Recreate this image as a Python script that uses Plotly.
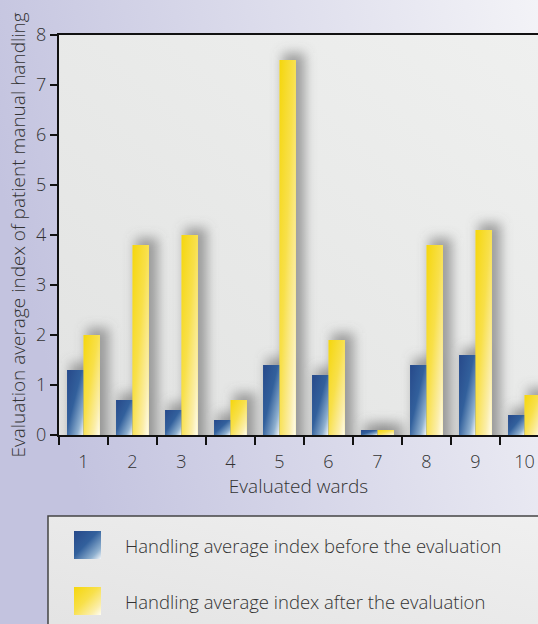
import base64
import plotly.graph_objects as go

wards = [1, 2, 3, 4, 5, 6, 7, 8, 9, 10]
ward_labels = ["1", "2", "3", "4", "5", "6", "7", "8", "9", "10"]
before = [1.3, 0.7, 0.5, 0.3, 1.4, 1.2, 0.1, 1.4, 1.6, 0.4]
after = [2.0, 3.8, 4.0, 0.7, 7.5, 1.9, 0.1, 3.8, 4.1, 0.8]
y_ticks = [0, 1, 2, 3, 4, 5, 6, 7, 8]
name_before = "Handling average index before the evaluation"
name_after = "Handling average index after the evaluation"

W, H = 538, 624
ML, MR, MT, MB = 59, 0, 35, 189
PW, PH = W - ML - MR, H - MT - MB
CAT_W = 49.0
Y_MAX = 8.0
PX_PER_Y = PH / Y_MAX
BARGAP = 0.33

def px_x(px):
    return (px - ML) / PW

def px_y(py):
    return (H - MB - py) / PH

def svg_uri(svg):
    return "data:image/svg+xml;base64," + base64.b64encode(svg.encode()).decode()

def grad_svg(stops, x1=0, y1=0, x2=1, y2=1):
    st = "".join(f"<stop offset='{o}' stop-color='{c}'/>" for o, c in stops)
    return (f"<svg xmlns='http://www.w3.org/2000/svg' width='100' height='100' viewBox='0 0 100 100' "
            f"preserveAspectRatio='none'><defs><linearGradient id='g' x1='{x1}' y1='{y1}' x2='{x2}' y2='{y2}'>"
            f"{st}</linearGradient></defs><rect width='100' height='100' fill='url(#g)'/></svg>")

bg_svg = grad_svg([(0, "#c3c3df"), (1, "#f3f3f7")], 0, 0.3, 1, 0)
pa_svg = grad_svg([(0, "#e2e3e2"), (1, "#eff0ef")], 0, 1, 1, 0)
lg_svg = grad_svg([(0, "#e3e3e3"), (1, "#f0f0f0")], 0, 1, 1, 0)
blue_svg = grad_svg([(0, "#27498a"), (0.45, "#32609c"), (0.8, "#8fb0cf"), (1, "#f4f7fa")], 0, 0, 1, 1)
yellow_svg = grad_svg([(0, "#f5d60c"), (0.45, "#f8e04a"), (0.8, "#fbeeaa"), (1, "#fffdf2")], 0, 0, 1, 1)

BLUE = "#35629b"
YELLOW = "#f8df3a"
TXT = "#333333"
FONT = "Open Sans"
W8 = 300

fig = go.Figure()
fig.add_trace(go.Bar(x=wards, y=before, name=name_before, marker=dict(color=BLUE, line=dict(width=0))))
fig.add_trace(go.Bar(x=wards, y=after, name=name_after, marker=dict(color=YELLOW, line=dict(width=0))))

x_max = 0.5 + PW / CAT_W

fig.update_layout(
    width=W, height=H,
    margin=dict(l=ML, r=MR, t=MT, b=MB, pad=0),
    paper_bgcolor="#d8d8ea",
    plot_bgcolor="rgba(0,0,0,0)",
    barmode="group", bargap=BARGAP, bargroupgap=0,
    showlegend=False,
    font=dict(family=FONT, color=TXT, size=18, weight=W8),
    xaxis=dict(
        range=[0.5, x_max], tickmode="array", tickvals=wards, ticktext=ward_labels,
        ticks="outside", ticklen=9, tickcolor="rgba(0,0,0,0)",
        tickfont=dict(size=18, color=TXT, family=FONT, weight=W8),
        minor=dict(tick0=0.5, dtick=1, ticks="outside", ticklen=8, tickwidth=2, tickcolor="#111", showgrid=False),
        showline=True, linecolor="#111", linewidth=2, mirror=True,
        showgrid=False, zeroline=False,
        title=dict(text="Evaluated wards", font=dict(size=19, color=TXT, family=FONT, weight=W8), standoff=7),
    ),
    yaxis=dict(
        range=[0, Y_MAX], tickmode="array", tickvals=y_ticks,
        ticks="outside", ticklen=7, tickwidth=2, tickcolor="#111",
        tickfont=dict(size=18, color=TXT, family=FONT, weight=W8),
        showline=True, linecolor="#111", linewidth=2,
        showgrid=False, zeroline=False,
        title=dict(text="Evaluation average index of patient manual handling",
                   font=dict(size=19, color=TXT, family=FONT, weight=W8), standoff=5),
    ),
)

images = [
    dict(source=svg_uri(bg_svg), xref="paper", yref="paper", x=px_x(0), y=px_y(0),
         sizex=px_x(W) - px_x(0), sizey=px_y(0) - px_y(H), sizing="stretch", layer="below",
         xanchor="left", yanchor="top"),
    dict(source=svg_uri(pa_svg), xref="paper", yref="paper", x=0, y=1, sizex=1, sizey=1,
         sizing="stretch", layer="below", xanchor="left", yanchor="top"),
    dict(source=svg_uri(lg_svg), xref="paper", yref="paper", x=px_x(48), y=px_y(516),
         sizex=px_x(560) - px_x(48), sizey=px_y(516) - px_y(640), sizing="stretch", layer="below",
         xanchor="left", yanchor="top"),
]

bw = (1 - BARGAP) / 2
PAD_L, PAD_R, PAD_T = 0.4, 0.7, 0.6  # data units around each bar pair for the soft shadow

def shadow_svg(vb, va):
    top = max(vb, va) + PAD_T
    wpx = (PAD_L + 2 * bw + PAD_R) * CAT_W
    hpx = top * PX_PER_Y
    bwpx = bw * CAT_W
    x0 = PAD_L * CAT_W
    dx, dy, grow = 6, -4, 3
    r1 = (f"<rect x='{x0 + dx - grow:.1f}' y='{(top - vb) * PX_PER_Y + dy - grow:.1f}' "
          f"width='{bwpx + 2 * grow:.1f}' height='{vb * PX_PER_Y + 30:.1f}'/>")
    r2 = (f"<rect x='{x0 + bwpx + dx - grow:.1f}' y='{(top - va) * PX_PER_Y + dy - grow:.1f}' "
          f"width='{bwpx + 2 * grow:.1f}' height='{va * PX_PER_Y + 30:.1f}'/>")
    svg = (f"<svg xmlns='http://www.w3.org/2000/svg' width='{wpx:.1f}' height='{hpx:.1f}' "
           f"viewBox='0 0 {wpx:.1f} {hpx:.1f}' preserveAspectRatio='none'>"
           f"<defs><filter id='b' x='-50%' y='-50%' width='200%' height='200%'>"
           f"<feGaussianBlur stdDeviation='6'/></filter></defs>"
           f"<g filter='url(#b)' fill='#6a6a6a' fill-opacity='0.6'>{r1}{r2}</g></svg>")
    return svg, top

for w, vb, va in zip(wards, before, after):
    s, top = shadow_svg(vb, va)
    images.append(dict(source=svg_uri(s), xref="x", yref="y", x=w - bw - PAD_L, y=top,
                       sizex=PAD_L + 2 * bw + PAD_R, sizey=top, sizing="stretch", layer="below",
                       xanchor="left", yanchor="top"))

# gradient shading laid over each bar, placed through the x/y data scales
for w, vb, va in zip(wards, before, after):
    images.append(dict(source=svg_uri(blue_svg), xref="x", yref="y", x=w - bw, y=vb,
                       sizex=bw, sizey=vb, sizing="stretch", layer="above",
                       xanchor="left", yanchor="top"))
    images.append(dict(source=svg_uri(yellow_svg), xref="x", yref="y", x=w, y=va,
                       sizex=bw, sizey=va, sizing="stretch", layer="above",
                       xanchor="left", yanchor="top"))

# legend drawn manually
fig.add_shape(type="rect", xref="paper", yref="paper",
              x0=px_x(48), x1=px_x(560), y0=px_y(516), y1=px_y(640),
              line=dict(color="#444", width=1.5), fillcolor="rgba(0,0,0,0)", layer="below")
items = [(name_before, blue_svg, 545), (name_after, yellow_svg, 601)]
for name, svg, cy in items:
    images.append(dict(source=svg_uri(svg), xref="paper", yref="paper",
                       x=px_x(74), y=px_y(cy - 14), sizex=px_x(101) - px_x(74),
                       sizey=px_y(cy - 14) - px_y(cy + 14), sizing="stretch", layer="above",
                       xanchor="left", yanchor="top"))
    fig.add_annotation(text=name, xref="paper", yref="paper", x=px_x(123), y=px_y(cy),
                       xanchor="left", yanchor="middle", showarrow=False,
                       font=dict(size=18.5, color=TXT, family=FONT, weight=W8))

fig.update_layout(images=images)

fig.write_html("out.html", config={"displayModeBar": False},
               post_script="document.body.style.margin='0';document.body.style.overflow='hidden';")
